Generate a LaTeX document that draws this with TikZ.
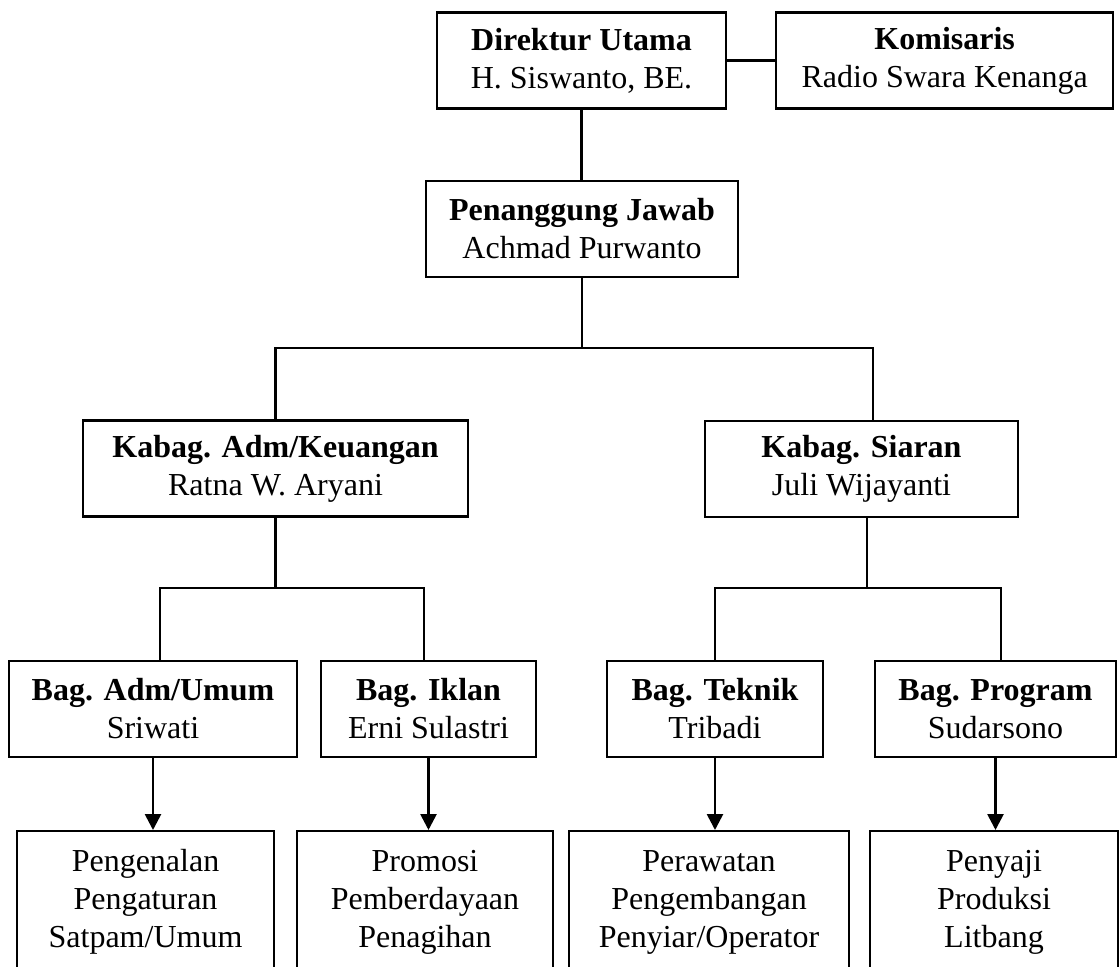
\documentclass[tikz,border=0pt]{standalone}
\usepackage{fontspec}
\setmainfont{Liberation Serif}
\usetikzlibrary{positioning}
\usetikzlibrary{positioning,arrows.meta}

\newcommand{\taskLines}[3]{\rule{0pt}{15pt}#1\\#2\\#3\rule[-60pt]{0pt}{60pt}}

\begin{document}
\begin{tikzpicture}[x=0.375pt, y=-0.375pt]
\tikzset{
    headStyle/.style={rectangle, draw=black, line width=0.8pt, inner sep=0pt, minimum height=36pt, align=center, font=\fontsize{12}{14.25}\selectfont},
    taskStyle/.style={rectangle, draw=black, line width=0.8pt, inner sep=0pt, anchor=north, align=center, font=\fontsize{12}{14.25}\selectfont},
    lineStyle/.style={line width=0.8pt, black},
    taskArrow/.style={-{Triangle[width=6pt,length=6pt]}, line width=1pt, black}
}

\useasboundingbox (0,0) rectangle (1119,966);
\clip (0,0) rectangle (1119,966);

\node[headStyle, minimum width=108.4pt] (dirut) at (581.5,60.5) {\textbf{Direktur Utama}\\H. Siswanto, BE.};
\node[headStyle, minimum width=126.4pt, right=18pt of dirut] (komisaris) {\textbf{Komisaris}\\Radio Swara Kenanga};

\node[headStyle, minimum width=117pt] (pj) at (582,229) {\textbf{Penanggung Jawab}\\Achmad Purwanto};

\node[headStyle, minimum width=144.4pt] (kabagAdm) at (275.5,468.5) {\textbf{Kabag. Adm/Keuangan}\\Ratna W. Aryani};
\node[headStyle, minimum width=117.4pt] (kabagSiaran) at (861.5,469) {\textbf{Kabag. Siaran}\\Juli Wijayanti};

\node[headStyle, minimum width=108pt] (bagAdm) at (153,709) {\textbf{Bag. Adm/Umum}\\Sriwati};
\node[headStyle, minimum width=80.6pt] (bagIklan) at (428.5,709) {\textbf{Bag. Iklan}\\Erni Sulastri};
\node[headStyle, minimum width=81pt] (bagTeknik) at (715,709) {\textbf{Bag. Teknik}\\Tribadi};
\node[headStyle, minimum width=90.4pt] (bagProgram) at (995.5,709) {\textbf{Bag. Program}\\Sudarsono};

\node[taskStyle, minimum width=96.4pt] (tugasAdm) at (145.5,830) {\taskLines{Pengenalan}{Pengaturan}{Satpam/Umum}};
\node[taskStyle, minimum width=96pt] (tugasIklan) at (425,830) {\taskLines{Promosi}{Pemberdayaan}{Penagihan}};
\node[taskStyle, minimum width=105pt] (tugasTeknik) at (709,830) {\taskLines{Perawatan}{Pengembangan}{Penyiar/Operator}};
\node[taskStyle, minimum width=93pt] (tugasProgram) at (994,830) {\taskLines{Penyaji}{Produksi}{Litbang}};

\coordinate (busTop) at (0,348);
\coordinate (busMid) at (0,588);

\draw[lineStyle] (dirut) -- (komisaris);
\draw[lineStyle] (dirut.south) -- (dirut.south |- pj.north);

\draw[lineStyle] (pj.south) -- (pj.south |- busTop) -| (kabagAdm.north);
\draw[lineStyle] (pj.south |- busTop) -| ([xshift=4.3pt]kabagSiaran.north);

\draw[lineStyle] (kabagAdm.south) -- (kabagAdm.south |- busMid) -| ([xshift=2.6pt]bagAdm.north);
\draw[lineStyle] (kabagAdm.south |- busMid) -| ([xshift=-1.7pt]bagIklan.north);
\draw[lineStyle] ([xshift=2pt]kabagSiaran.south) -- ([xshift=2pt]kabagSiaran.south |- busMid) -| (bagTeknik.north);
\draw[lineStyle] ([xshift=2pt]kabagSiaran.south |- busMid) -| ([xshift=2pt]bagProgram.north);

\draw[taskArrow] (bagAdm.south) -- (bagAdm.south |- tugasAdm.north);
\draw[taskArrow] (bagIklan.south) -- (bagIklan.south |- tugasIklan.north);
\draw[taskArrow] (bagTeknik.south) -- (bagTeknik.south |- tugasTeknik.north);
\draw[taskArrow] (bagProgram.south) -- (bagProgram.south |- tugasProgram.north);

\end{tikzpicture}
\end{document}
